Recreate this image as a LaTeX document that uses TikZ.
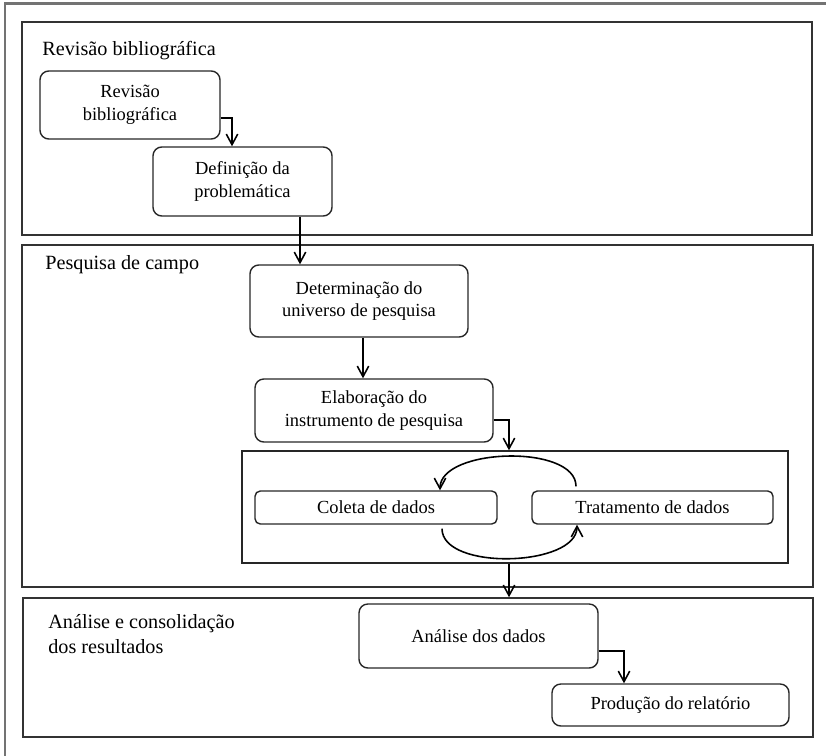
\documentclass[tikz,border=0pt]{standalone}
\usepackage{fontspec}
\setmainfont{Liberation Serif}
\usepackage{tikz}
\usetikzlibrary{positioning,arrows.meta}

\begin{document}
\begin{tikzpicture}[
    etapa/.style = {
        rectangle,
        draw=black!85,
        line width=0.8pt,
        rounded corners=5pt,
        align=center,
        inner sep=0pt,
        font=\fontsize{10.5}{12.8}\selectfont
    },
    etapafina/.style = {etapa, rounded corners=3pt},
    fase/.style       = {rectangle, draw=black!80, line width=0.9pt, inner sep=0pt},
    ciclobox/.style   = {rectangle, draw=black!85, line width=0.8pt, inner sep=0pt},
    fasetitulo/.style = {anchor=base west, align=left, inner sep=0pt, font=\fontsize{11.5}{14.2}\selectfont},
    moldura/.style    = {draw=black!55, line width=1.2pt},
    arrow/.style      = {-{Straight Barb[length=6pt,width=6.5pt]}, line width=0.9pt, draw=black},
    line join=miter
]

\useasboundingbox (0,0) rectangle (16.52,-15.1);

% Outer frame (cut at right and bottom)
\draw[moldura] (0.1,-15.4) |- (16.8,-0.07);

% Phases
\node[fase, minimum width=15.8cm,  minimum height=4.26cm] (fase1) at (8.34,-2.57) {};
\node[fase, minimum width=15.82cm, minimum height=6.84cm] (fase2) at (8.35,-8.32) {};
\node[fase, minimum width=15.8cm,  minimum height=2.78cm] (fase3) at (8.36,-13.35) {};

% Phase titles
\node[fasetitulo] (titulo1) at (0.84,-1.12)  {Revisão bibliográfica};
\node[fasetitulo] (titulo2) at (0.9,-5.38)   {Pesquisa de campo};
\node[fasetitulo] (titulo3) at (0.96,-13.06) {Análise e consolidação\\dos resultados};

% Phase 1
\node[etapa, minimum width=3.6cm, minimum height=1.36cm] (revisao) at (2.6,-2.1) {Revisão\\bibliográfica};
\node[etapa, minimum width=3.58cm, minimum height=1.38cm] (definicao) at (4.85,-3.63) {Definição da\\problemática};

% Phase 2
\node[etapa, minimum width=4.36cm, minimum height=1.44cm] (universo) at (7.18,-6.02) {Determinação do\\universo de pesquisa};
\node[etapa, minimum width=4.76cm, minimum height=1.26cm] (instrumento) at (7.48,-8.21) {Elaboração do\\instrumento de pesquisa};

\node[ciclobox, minimum width=10.92cm, minimum height=2.24cm] (ciclo) at (10.3,-10.14) {};
\node[etapafina, minimum width=4.84cm, minimum height=0.66cm] (coleta) at (7.52,-10.15) {Coleta de dados};
\node[etapafina, minimum width=4.82cm, minimum height=0.66cm] (tratamento) at (13.05,-10.15) {Tratamento de dados};

% Phase 3
\node[etapa, minimum width=4.78cm, minimum height=1.28cm] (analise) at (9.57,-12.72) {Análise dos dados};
\node[etapa, minimum width=4.74cm, minimum height=0.84cm] (relatorio) at (13.41,-14.1) {Produção do relatório};

% Arrows - phase 1
\draw[arrow] ([yshift=-0.26cm]revisao.east) -| ([xshift=-0.21cm]definicao.north);
\draw[arrow] ([xshift=1.15cm]definicao.south) -- ([xshift=1.15cm]definicao.south |- universo.north);

% Arrows - phase 2
\draw[arrow] ([xshift=0.08cm]universo.south) -- ([xshift=0.08cm]universo.south |- instrumento.north);
\draw[arrow] ([yshift=-0.19cm]instrumento.east) -| ([xshift=-0.12cm]ciclo.north);

% Cycle between collection and treatment
\draw[arrow] ([xshift=-1.53cm,yshift=0.08cm]tratamento.north) to[out=90, in=90, looseness=0.8] ([xshift=1.28cm]coleta.north);
\draw[arrow] ([xshift=1.32cm,yshift=-0.08cm]coleta.south) to[out=-90, in=-90, looseness=0.8] ([xshift=-1.51cm]tratamento.south);

% Arrows - down to phase 3
\draw[arrow] ([xshift=-0.12cm]ciclo.south) -- ([xshift=-0.12cm]ciclo.south |- fase3.north);
\draw[arrow] ([yshift=-0.3cm]analise.east) -| ([xshift=-0.93cm]relatorio.north);

\end{tikzpicture}
\end{document}
